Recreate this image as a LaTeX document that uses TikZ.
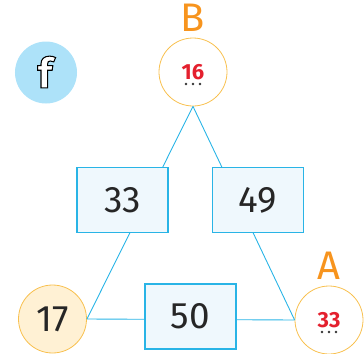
\documentclass[tikz,border=0pt]{standalone}
\usepackage{fontspec}
\setmainfont{Fira Sans}[BoldFont=* Bold]
\newfontfamily\badgefont{Fira Sans Bold}[FakeBold=2.5]
\usetikzlibrary{calc}
\definecolor{linkblue}{HTML}{29B4E6}
\definecolor{boxfill}{HTML}{EFF8FD}
\definecolor{ringyellow}{HTML}{F8C04E}
\definecolor{creamfill}{HTML}{FFF1D4}
\definecolor{letterorange}{HTML}{F7941E}
\definecolor{guessred}{HTML}{E4202E}
\definecolor{dotgray}{HTML}{333333}
\definecolor{badgeblue}{HTML}{ADE2F9}
\tikzset{
    ring/.style={circle, draw=ringyellow, line width=0.8pt, minimum size=68bp, inner sep=0pt, font=\fontsize{37}{37}\selectfont, text=black!85},
    numbox/.style={rectangle, draw=linkblue, fill=boxfill, line width=1.2pt, minimum width=91bp, minimum height=65bp, inner sep=0pt, font=\fontsize{37}{37}\selectfont, text=black!85},
    link/.style={draw=linkblue, line width=0.9pt},
    guessnum/.style={inner sep=0pt, text=guessred, font=\bfseries\fontsize{22}{22}\selectfont},
    cornerletter/.style={inner sep=0pt, text=letterorange, font=\fontsize{40}{40}\selectfont}
}
\newcommand{\drawguess}[4]{
    \node[ring] (#1) at (#2) {};
    \node[guessnum] (#1num) at ($(#1)+(0,0)$) {#3};
    \foreach \dx in {-7,0,7}
        \fill[dotgray] ($(#1)+(\dx,12)$) circle (1.3);
    \node[cornerletter] (#1letter) at ($(#1)+(0,-54)$) {#4};
}

\begin{document}
\begin{tikzpicture}[x=1bp, y=-1bp]
    \useasboundingbox (0,0) rectangle (364,354);
    \node[circle, fill=badgeblue, minimum size=62bp, inner sep=0pt] (badge) at (46,72.5) {};
    \node[inner sep=0pt, font=\badgefont\fontsize{42}{42}\selectfont] (badgef) at (45,72) {\color{white}\special{pdf:code 0 0 0 RG}f};
    \drawguess{B}{193,72}{16}{B};
    \drawguess{A}{329,320}{33}{A};
    \node[ring, fill=creamfill] (start) at (52.5,319) {17};
    \draw[link] (B.south) -- (start.east);
    \draw[link] (B.south) -- (A.west);
    \draw[link] (start.east) -- (A.west);
    \node[numbox] (left) at (122.5,200) {33};
    \node[numbox] (right) at (258,200) {49};
    \node[numbox] (bottom) at (190.5,316.5) {50};
\end{tikzpicture}
\end{document}
